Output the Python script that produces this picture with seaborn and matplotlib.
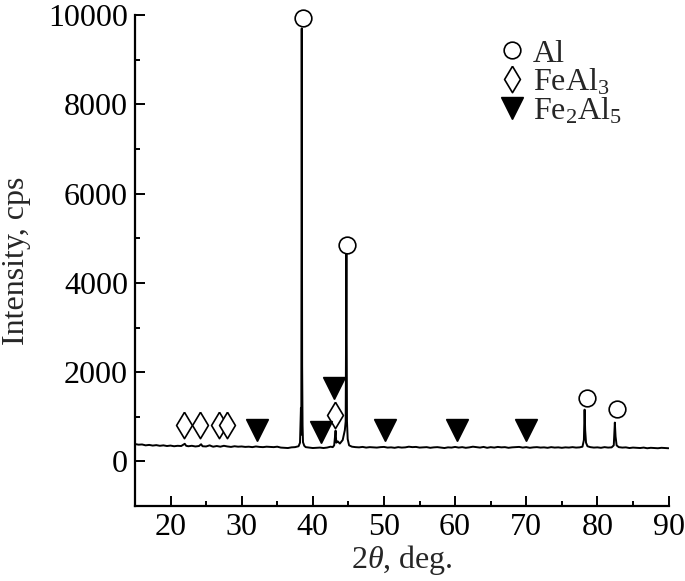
import matplotlib
matplotlib.use("Agg")
import matplotlib.pyplot as plt
from matplotlib.ticker import MultipleLocator
import seaborn as sns

# ─────────────────────────────────────────────
# DATA
# ─────────────────────────────────────────────
two_theta = [
    15.0, 15.5, 16.0, 16.5, 17.0, 17.5, 18.0, 18.5, 19.0, 19.5,
    20.0, 20.5, 21.0, 21.5, 22.0, 22.2, 22.5, 23.0, 23.5, 24.0,
    24.3, 24.5, 25.0, 25.5, 25.8, 26.0, 26.5, 27.0, 27.5, 28.0,
    28.5, 29.0, 29.5, 30.0, 30.5, 31.0, 31.5, 32.0, 32.5, 33.0,
    33.5, 34.0, 34.5, 35.0, 35.5, 36.0, 36.5, 37.0, 37.5, 38.0,
    38.2, 38.33, 38.38, 38.44, 38.50, 38.56, 38.62, 38.8, 39.0, 39.5,
    40.0, 40.5, 41.0, 41.5, 42.0, 42.5, 42.8, 43.0, 43.2, 43.3,
    43.5, 43.8, 44.2, 44.5, 44.62, 44.72, 44.8, 44.9, 45.1, 45.5,
    46.0, 46.5, 47.0, 47.5, 48.0, 48.5, 49.0, 49.5, 50.0, 50.5,
    51.0, 51.5, 52.0, 52.5, 53.0, 53.5, 54.0, 54.5, 55.0, 55.5,
    56.0, 56.5, 57.0, 57.5, 58.0, 58.5, 59.0, 59.5, 60.0, 60.5,
    61.0, 61.5, 62.0, 62.5, 63.0, 63.5, 64.0, 64.5, 65.0, 65.5,
    66.0, 66.5, 67.0, 67.5, 68.0, 68.5, 69.0, 69.5, 70.0, 70.5,
    71.0, 71.5, 72.0, 72.5, 73.0, 73.5, 74.0, 74.5, 75.0, 75.5,
    76.0, 76.5, 77.0, 77.5, 77.9, 78.1, 78.2, 78.28, 78.4, 78.6,
    79.0, 79.5, 80.0, 80.5, 81.0, 81.5, 82.0, 82.3, 82.45, 82.55,
    82.7, 83.0, 83.5, 84.0, 84.5, 85.0, 85.5, 86.0, 86.5, 87.0,
    87.5, 88.0, 88.5, 89.0, 89.5, 90.0,
]
intensity = [
    390, 375, 380, 360, 370, 355, 365, 350, 360, 345,
    355, 340, 350, 345, 395, 350, 340, 350, 335, 345,
    385, 340, 335, 360, 340, 330, 345, 330, 350, 335,
    325, 340, 330, 335, 325, 330, 320, 335, 325, 320,
    330, 325, 320, 330, 310, 305, 300, 315, 320, 340,
    420, 1200, 600, 9700, 2150, 800, 430, 350, 320, 310,
    300, 305, 310, 300, 310, 330, 320, 360, 690, 420,
    450, 400, 480, 700, 900, 4650, 900, 500, 360, 330,
    320, 315, 325, 310, 320, 315, 310, 320, 325, 310,
    315, 305, 320, 310, 315, 330, 320, 325, 310, 315,
    320, 305, 315, 320, 310, 300, 315, 310, 325, 310,
    320, 305, 315, 330, 320, 310, 325, 305, 320, 310,
    325, 315, 320, 305, 315, 320, 325, 310, 320, 305,
    315, 320, 310, 315, 305, 320, 310, 315, 305, 315,
    310, 320, 310, 315, 330, 480, 1160, 700, 420, 340,
    320, 310, 315, 305, 320, 310, 315, 360, 870, 560,
    360, 320, 310, 315, 300, 310, 305, 300, 310, 295,
    305, 300, 295, 305, 300, 295,
]

# phase markers (peak identification)
al_x = [38.6, 44.8, 78.5, 82.7]
al_y = [9930, 4850, 1430, 1170]
feal3_x = [21.9, 24.2, 26.8, 28.0, 43.1]
feal3_y = [810, 810, 810, 810, 1050]
fe2al5_x = [32.1, 41.2, 43.0, 50.2, 60.2, 69.9]
fe2al5_y = [700, 660, 1650, 700, 700, 700]

# ─────────────────────────────────────────────
# STYLE
# ─────────────────────────────────────────────
sns.set_style("ticks")
plt.rcParams["font.family"] = ["Liberation Serif", "DejaVu Serif"]
plt.rcParams["mathtext.fontset"] = "custom"
plt.rcParams["mathtext.rm"] = "Liberation Serif"
plt.rcParams["mathtext.it"] = "Liberation Serif:italic"
FS = 23

fig = plt.figure(figsize=(6.85, 5.81), dpi=100)
ax = fig.add_axes([0.197, 0.129, 0.779, 0.845])

sns.lineplot(x=two_theta, y=intensity, color="black", linewidth=1.4,
             estimator=None, ax=ax)

thin_diamond = [(0, 1), (0.6, 0), (0, -1), (-0.6, 0), (0, 1)]
ax.plot(al_x, al_y, linestyle="none", marker="o", markersize=12,
        markerfacecolor="white", markeredgecolor="black",
        markeredgewidth=1.2, label="Al", clip_on=False, zorder=5)
ax.plot(feal3_x, feal3_y, linestyle="none", marker=thin_diamond,
        markersize=19, markerfacecolor="white", markeredgecolor="black",
        markeredgewidth=1.2, label="FeAl$_3$")
ax.plot(fe2al5_x, fe2al5_y, linestyle="none", marker="v", markersize=16.5,
        color="black", label="Fe$_2$Al$_5$")

ax.set_xlim(15, 90)
ax.set_ylim(-1000, 10000)
ax.xaxis.set_major_locator(MultipleLocator(10))
ax.xaxis.set_minor_locator(MultipleLocator(5))
ax.yaxis.set_major_locator(MultipleLocator(2000))
ax.yaxis.set_minor_locator(MultipleLocator(1000))
ax.tick_params(which="both", direction="in", width=1.4, labelsize=FS,
               pad=5, colors="black")
ax.tick_params(which="major", length=7)
ax.tick_params(which="minor", length=3.5)
for side in ["top", "right"]:
    ax.spines[side].set_visible(False)
for side in ["left", "bottom"]:
    ax.spines[side].set_linewidth(1.6)
    ax.spines[side].set_color("black")

ax.set_xlabel(r"2$\theta$, deg.", fontsize=FS, labelpad=1)
ax.set_ylabel("Intensity, cps", fontsize=FS, labelpad=12)

ax.legend(loc="upper left", bbox_to_anchor=(0.706, 0.96),
          bbox_transform=fig.transFigure, frameon=False, fontsize=FS,
          handlelength=0.8, handletextpad=0.25, labelspacing=-0.05,
          markerscale=1.0, borderpad=0)

fig.savefig("out.png", dpi=100)
